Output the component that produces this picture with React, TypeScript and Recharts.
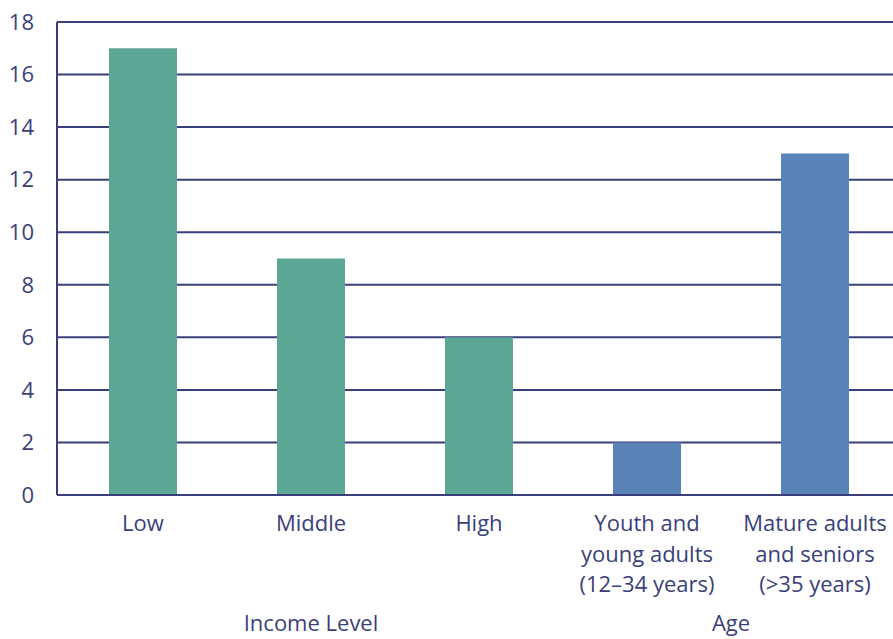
import { BarChart, Bar, XAxis, YAxis, CartesianGrid, Cell } from 'recharts'

const categories = [
  ['Low'],
  ['Middle'],
  ['High'],
  ['Youth and', 'young adults', '(12\u201334 years)'],
  ['Mature adults', 'and seniors', '(>35 years)'],
]
const values = [17, 9, 6, 2, 13]
const groupOf = ['income', 'income', 'income', 'age', 'age']
const groups = [
  { key: 'income', label: 'Income Level', first: 0, size: 3 },
  { key: 'age', label: 'Age', first: 3, size: 2 },
]
const yTicks = [0, 2, 4, 6, 8, 10, 12, 14, 16, 18]

const INK = '#3a3f7a'
const colors: Record<string, string> = { income: '#5ca695', age: '#5a84b7' }
const FONT = '"Open Sans", "Noto Sans", sans-serif'

// the plot runs slightly past the right edge of the picture, like the original
const W = 899
const VIEW_W = 893
const H = 639
const LEFT = 57
const PAD_L = 2
const step = (W - LEFT - PAD_L) / categories.length

const data = categories.map((c, i) => ({ name: String(i), value: values[i], group: groupOf[i] }))

function CategoryTick(props: any) {
  const { x, y, payload } = props
  const idx = Number(payload.value)
  const lines = categories[idx]
  const grp = groups.find(g => g.first === idx)
  return (
    <g>
      <text x={x} y={y} textAnchor="middle" fill={INK} fontSize={22} fontFamily={FONT}>
        {lines.map((l, i) => (
          <tspan key={i} x={x} dy={i === 0 ? 34 : 30.5}>{l}</tspan>
        ))}
      </text>
      {grp && (
        <text x={x + ((grp.size - 1) / 2) * step} y={y + 134} textAnchor="middle" fill={INK} fontSize={22} fontFamily={FONT}>
          {grp.label}
        </text>
      )}
    </g>
  )
}

export default function App() {
  return (
    <div style={{ position: 'absolute', left: 0, top: 0, width: VIEW_W, height: H, overflow: 'hidden', background: '#fff' }}>
      <BarChart width={W} height={H} data={data} margin={{ top: 22, right: 0, left: 0, bottom: 0 }} barSize={68}>
        <CartesianGrid vertical={false} stroke={INK} strokeWidth={2} />
        <XAxis
          dataKey="name"
          height={144}
          padding={{ left: PAD_L, right: 0 }}
          axisLine={{ stroke: INK, strokeWidth: 2 }}
          tickLine={false}
          tickSize={0}
          tick={<CategoryTick />}
          interval={0}
        />
        <YAxis
          width={LEFT}
          domain={[0, 18]}
          ticks={yTicks}
          axisLine={{ stroke: INK, strokeWidth: 2 }}
          tickLine={false}
          tickSize={0}
          tickMargin={23}
          tick={{ fill: INK, fontSize: 22, fontFamily: FONT }}
        />
        <Bar dataKey="value" isAnimationActive={false}>
          {data.map((d, i) => (
            <Cell key={i} fill={colors[d.group]} />
          ))}
        </Bar>
      </BarChart>
    </div>
  )
}
